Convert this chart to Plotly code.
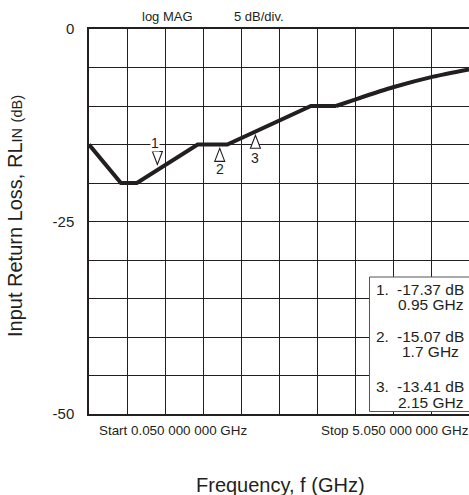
import plotly.graph_objects as go

# ---- data ----
freq_ghz = [0.05, 0.47, 0.68, 1.48, 1.87, 2.97, 3.30, 3.56, 4.05, 4.58, 5.05]
rl_in_db = [-15.0, -20.0, -20.0, -15.0, -15.0, -10.0, -10.0, -9.13, -7.57, -6.19, -5.25]
curve_start_index = 6  # trace is a smooth curve from here on

marker_ids = ["1", "2", "3"]
marker_tip_ghz = [0.95, 1.77, 2.24]
marker_tip_db = [-17.6, -15.5, -13.8]
marker_dir = ["down", "up", "up"]
marker_value_text = ["-17.37 dB", "-15.07 dB", "-13.41 dB"]
marker_freq_text = ["0.95 GHz", "1.7 GHz", "2.15 GHz"]

y_tick_vals = [0, -5, -10, -15, -20, -25, -30, -35, -40, -45, -50]
y_tick_text = ["0", "", "", "", "", "-25", "", "", "", "", "-50"]

start_text = "Start 0.050 000 000 GHz"
stop_text = "Stop 5.050 000 000 GHz"
header_left = "log MAG"
header_right = "5 dB/div."

# ---- layout geometry ----
W_FIG, H_FIG = 469, 495
L, T, B, R = 89, 29, 81, 0
PW = W_FIG - L - R
PH = H_FIG - T - B
FONT = "Liberation Sans, Arial, Helvetica, sans-serif"
INK = "#231f20"


def pxx(px):
    return (px - L) / PW


def pyy(py):
    return (T + PH - py) / PH


fig = go.Figure()
fig.add_trace(go.Scatter(
    x=freq_ghz[:curve_start_index + 1], y=rl_in_db[:curve_start_index + 1], mode="lines",
    line=dict(color=INK, width=4), showlegend=False, hoverinfo="skip",
))
fig.add_trace(go.Scatter(
    x=freq_ghz[curve_start_index:], y=rl_in_db[curve_start_index:], mode="lines",
    line=dict(color=INK, width=4, shape="spline", smoothing=0.6),
    showlegend=False, hoverinfo="skip",
))

shapes = []
annotations = []

# marker triangles and their numbers
label_dx = [-2, 0, 0]
label_dy = [22, -21, -23]
for mid, f, d, direc, dx, dy in zip(marker_ids, marker_tip_ghz, marker_tip_db,
                                    marker_dir, label_dx, label_dy):
    if direc == "down":
        path = "M0,0 L-5,13 L5,13 Z"
    else:
        path = "M0,0 L-5,-13 L5,-13 Z"
    shapes.append(dict(
        type="path", xref="x", yref="y", xsizemode="pixel", ysizemode="pixel",
        xanchor=f, yanchor=d, path=path, fillcolor="white",
        line=dict(color=INK, width=1.1), layer="above",
    ))
    annotations.append(dict(
        x=f, y=d, xref="x", yref="y", text=mid, showarrow=False,
        xshift=dx, yshift=dy, xanchor="center", yanchor="middle",
        font=dict(family=FONT, size=14, color=INK),
        bgcolor="white" if direc == "down" else "rgba(0,0,0,0)", borderpad=0,
    ))

# marker readout box
shapes.append(dict(
    type="rect", xref="paper", yref="paper",
    x0=pxx(369.5), x1=pxx(480), y0=pyy(411.5), y1=pyy(277),
    fillcolor="white", line=dict(color="#555555", width=1), layer="above",
))
row_y = [(289, 304), (336, 351), (386.5, 402)]
for mid, vt, ft, (y1, y2) in zip(marker_ids, marker_value_text, marker_freq_text, row_y):
    annotations.append(dict(
        x=pxx(374), y=pyy(y1), xref="paper", yref="paper", text=mid + ".",
        showarrow=False, xanchor="left", yanchor="middle",
        font=dict(family=FONT, size=15.5, color=INK),
    ))
    annotations.append(dict(
        x=pxx(430), y=pyy(y1), xref="paper", yref="paper", text=vt,
        showarrow=False, xanchor="center", yanchor="middle",
        font=dict(family=FONT, size=15.5, color=INK),
    ))
    annotations.append(dict(
        x=pxx(430), y=pyy(y2), xref="paper", yref="paper", text=ft,
        showarrow=False, xanchor="center", yanchor="middle",
        font=dict(family=FONT, size=15.5, color=INK),
    ))

# header texts
annotations.append(dict(x=pxx(167), y=pyy(17), xref="paper", yref="paper",
                        text=header_left, showarrow=False, xanchor="center", yanchor="middle",
                        font=dict(family=FONT, size=13, color=INK)))
annotations.append(dict(x=pxx(258.5), y=pyy(17), xref="paper", yref="paper",
                        text=header_right, showarrow=False, xanchor="center", yanchor="middle",
                        font=dict(family=FONT, size=13, color=INK)))
# start / stop
annotations.append(dict(x=pxx(173), y=pyy(431), xref="paper", yref="paper",
                        text=start_text, showarrow=False, xanchor="center", yanchor="middle",
                        font=dict(family=FONT, size=13.4, color=INK)))
annotations.append(dict(x=pxx(395), y=pyy(431), xref="paper", yref="paper",
                        text=stop_text, showarrow=False, xanchor="center", yanchor="middle",
                        font=dict(family=FONT, size=13.4, color=INK)))
# axis titles
annotations.append(dict(x=pxx(280), y=pyy(485), xref="paper", yref="paper",
                        text="Frequency, f (GHz)", showarrow=False,
                        xanchor="center", yanchor="middle",
                        font=dict(family=FONT, size=20, color=INK)))
annotations.append(dict(x=pxx(15), y=pyy(216), xref="paper", yref="paper",
                        text="Input Return Loss, RL<span style='font-size:14.5px'>IN</span>"
                             " <span style='font-size:14.5px'>(dB)</span>",
                        showarrow=False, textangle=-90,
                        xanchor="center", yanchor="middle",
                        font=dict(family=FONT, size=20, color=INK)))

fig.update_layout(
    width=W_FIG, height=H_FIG,
    margin=dict(l=L, r=R, t=T, b=B, pad=0, autoexpand=False),
    paper_bgcolor="white", plot_bgcolor="white",
    showlegend=False,
    font=dict(family=FONT, color=INK),
    shapes=shapes, annotations=annotations,
    xaxis=dict(
        range=[freq_ghz[0], freq_ghz[-1]], tick0=0.05, dtick=0.5,
        showticklabels=False, ticks="",
        showgrid=True, gridcolor=INK, gridwidth=1.2,
        showline=True, linecolor=INK, linewidth=1.5, mirror=True,
        zeroline=False, fixedrange=True,
    ),
    yaxis=dict(
        range=[-50, 0], tickmode="array", tickvals=y_tick_vals, ticktext=y_tick_text,
        ticks="", ticklabelstandoff=10,
        tickfont=dict(family=FONT, size=15, color=INK),
        showgrid=True, gridcolor=INK, gridwidth=1.2,
        showline=True, linecolor=INK, linewidth=1.5, mirror=True,
        zeroline=False, fixedrange=True,
    ),
)

fig.write_html("out.html")
